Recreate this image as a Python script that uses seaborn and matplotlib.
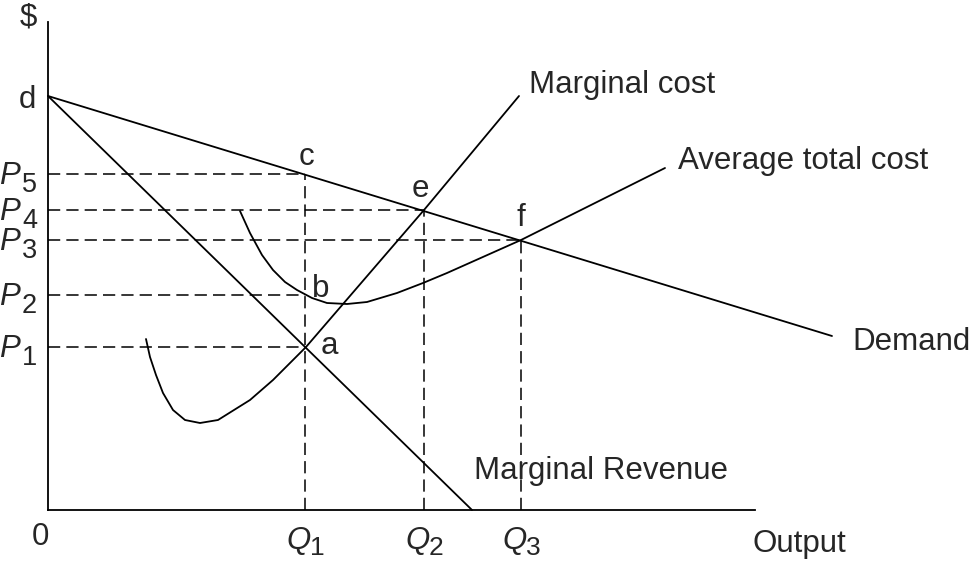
import seaborn as sns
import matplotlib.pyplot as plt

# curve points (output, $)
demand_x = [0, 784]
demand_y = [414, 174]
mr_x = [0, 424]
mr_y = [414, 0]
mc_x = [98, 102, 108, 115, 125, 137, 152, 170, 202, 225, 258, 376, 471]
mc_y = [171, 153, 135, 117, 100, 90, 87, 90, 110, 130, 163, 300, 414]
atc_x = [192, 202, 214, 225, 237, 249, 264, 279, 299, 319, 349, 375, 399, 473, 617]
atc_y = [299, 277, 255, 240, 228, 220, 212, 207, 206, 208, 217, 227, 237, 270, 342]

# price levels and the quantity each dashed guide runs to
prices = [163, 215, 270, 300, 336]
price_subs = ['1', '2', '3', '4', '5']
price_ends = [257, 257, 473, 376, 257]
quantities = [257, 376, 473]
quantity_tops = [336, 300, 270]
quantity_subs = ['1', '2', '3']

sns.set_theme(style='white')
plt.rcParams['font.family'] = ['Liberation Sans', 'DejaVu Sans']

fig = plt.figure(figsize=(9.7, 5.61), dpi=100)
ax = fig.add_axes([48 / 970, 51 / 561, 707 / 970, 488 / 561])

lw = 1.3
for xs, ys in [(demand_x, demand_y), (mr_x, mr_y), (mc_x, mc_y), (atc_x, atc_y)]:
    sns.lineplot(x=xs, y=ys, sort=False, estimator=None, color='black',
                 lw=lw, ax=ax, clip_on=False)

dash = (0, (8, 4))
ax.hlines(prices, 0, price_ends, colors='black', lw=1.1, linestyles=dash)
ax.vlines(quantities, 0, quantity_tops, colors='black', lw=1.1, linestyles=dash)

ax.set_xlim(0, 707)
ax.set_ylim(0, 488)
ax.set_xticks([])
ax.set_yticks([])
sns.despine(ax=ax)
for s in ['left', 'bottom']:
    ax.spines[s].set_color('black')
    ax.spines[s].set_linewidth(lw)

# P and Q labels: italic letter with a nearly full size subscript
for p, sub in zip(prices, price_subs):
    ax.text(-49, p - 10, 'P', fontsize=22.5, style='italic', ha='left',
            va='baseline', clip_on=False)
    ax.text(-26, p - 18, sub, fontsize=19.5, ha='left', va='baseline', clip_on=False)
for q, sub in zip(quantities, quantity_subs):
    ax.text(q - 19, -39, 'Q', fontsize=22.5, style='italic', ha='left',
            va='baseline', clip_on=False)
    ax.text(q + 5, -45, sub, fontsize=19, ha='left', va='baseline', clip_on=False)

fs = 22.5
ax.text(-28, 485, '$', fontsize=fs, ha='left', va='baseline')
ax.text(-29, 402, 'd', fontsize=fs, ha='left', va='baseline')
ax.text(-16, -35, '0', fontsize=fs, ha='left', va='baseline')
ax.text(705, -42, 'Output', fontsize=fs, ha='left', va='baseline')
ax.text(251, 345, 'c', fontsize=fs, ha='left', va='baseline')
ax.text(364, 313, 'e', fontsize=fs, ha='left', va='baseline')
ax.text(469, 284, 'f', fontsize=fs, ha='left', va='baseline')
ax.text(264, 213, 'b', fontsize=fs, ha='left', va='baseline')
ax.text(273, 156, 'a', fontsize=fs, ha='left', va='baseline')
ax.text(481, 417, 'Marginal cost', fontsize=fs, ha='left', va='baseline')
ax.text(630, 341, 'Average total cost', fontsize=fs, ha='left', va='baseline')
ax.text(804, 160, 'Demand', fontsize=fs, ha='left', va='baseline')
ax.text(426, 31, 'Marginal Revenue', fontsize=fs, ha='left', va='baseline')

fig.savefig('out.png', dpi=100)
